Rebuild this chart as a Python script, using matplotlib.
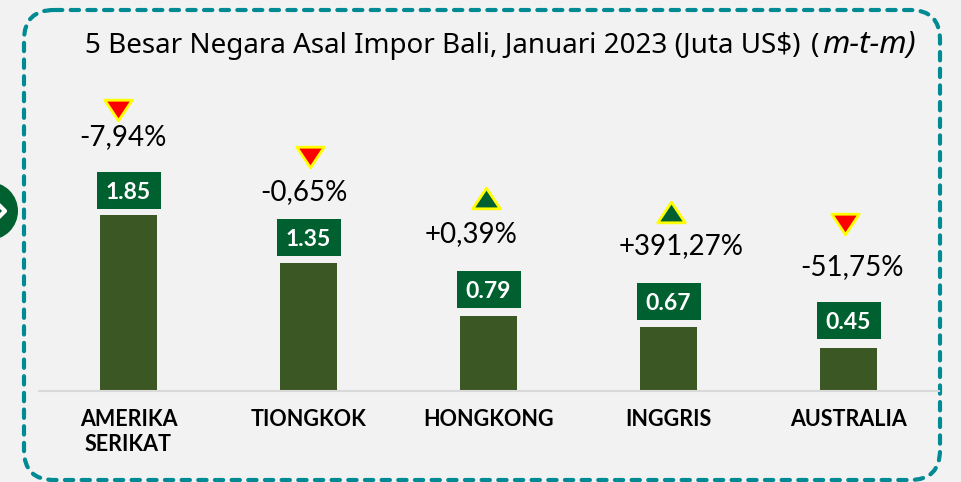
import matplotlib
matplotlib.use("Agg")
import matplotlib.pyplot as plt
from matplotlib.patches import FancyBboxPatch, Circle, Rectangle
from matplotlib.path import Path

categories = ["AMERIKA\nSERIKAT", "TIONGKOK", "HONGKONG", "INGGRIS", "AUSTRALIA"]
values = [1.85, 1.35, 0.79, 0.67, 0.45]
changes = ["-7,94%", "-0,65%", "+0,39%", "+391,27%", "-51,75%"]
directions = [-1, -1, 1, 1, -1]

BG = "#F2F2F2"
BAR = "#3B5723"
GREEN = "#00602F"
TEAL = "#008A93"
W, H = 961, 482
PX_PER_UNIT = 94.6
BASE_Y = 390.5
SPACING = 180

plt.rcParams["font.family"] = ["Lato", "DejaVu Sans"]
fig = plt.figure(figsize=(W / 100, H / 100), dpi=100, facecolor=BG)

# overlay in pixel coordinates for the decoration
ov = fig.add_axes([0, 0, 1, 1], zorder=0)
ov.set_xlim(0, W)
ov.set_ylim(H, 0)
ov.axis("off")
ov.add_patch(FancyBboxPatch((24, 10), 916, 470, boxstyle="round,pad=0,rounding_size=30",
                            fc="none", ec=TEAL, lw=3, linestyle=(0, (2.0, 2.0)),
                            capstyle="round", clip_on=False))
ov.add_patch(Circle((-11, 211), 29, fc=GREEN, ec="none"))
ov.plot([-1, 5, -1], [205, 211, 217], color="white", lw=3, solid_capstyle="round")

# bars
ax = fig.add_axes([38.5 / W, (H - BASE_Y) / H, 900 / W, BASE_Y / H], zorder=1)
ax.patch.set_alpha(0)
xs = list(range(len(values)))
ax.bar(xs, values, width=57 / SPACING, color=BAR)
ax.set_xlim(-0.5, 4.5)
ax.set_ylim(0, BASE_Y / PX_PER_UNIT)
ax.set_yticks([])
ax.set_xticks(xs)
ax.set_xticklabels(categories, fontsize=15.5, fontweight="bold", color="#000000", linespacing=1.22)
ax.tick_params(axis="x", length=0, pad=13.5)
for s in ("left", "right", "top"):
    ax.spines[s].set_visible(False)
ax.spines["bottom"].set_color("#D9D9D9")
ax.spines["bottom"].set_linewidth(1.5)

box_gap = [6, 7, 8, 7, 9]
for x, v, g in zip(xs, values, box_gap):
    ax.add_patch(Rectangle((x - 32 / SPACING, v + g / PX_PER_UNIT), 64 / SPACING, 37 / PX_PER_UNIT,
                           fc=GREEN, ec="none"))
    ax.annotate(f"{v:.2f}", (x, v), xytext=(0, (g + 18.5) * 0.72), textcoords="offset points",
                ha="center", va="center_baseline", fontsize=16.5, fontweight="bold", color="white")

# change labels and triangles, offset from each bar
down_tri = Path([(-1, 0.75), (1, 0.75), (0, -0.75), (-1, 0.75)], closed=True)
up_tri = Path([(-1, -0.75), (1, -0.75), (0, 0.75), (-1, -0.75)], closed=True)
label_dx = [-6, -5, -17, 13, 4]
label_dy = [78, 71, 82, 81, 81]
tri_dx = [-11, 1, -3, 2, -4]
tri_dy = [105, 106, 118, 115, 124]
for x, v, c, d, ldx, ldy, tdx, tdy in zip(xs, values, changes, directions, label_dx, label_dy, tri_dx, tri_dy):
    ax.annotate(c, (x, v), xytext=(ldx * 0.72, ldy * 0.72), textcoords="offset points",
                ha="center", va="center", fontsize=20, color="#000000")
    px = 39 + (x + 0.5) * SPACING + tdx
    py = BASE_Y - v * PX_PER_UNIT - tdy
    tri = ov.scatter([px], [py], marker=down_tri if d < 0 else up_tri,
                     s=(27.5 * 0.72) ** 2, fc="#FF0000" if d < 0 else GREEN,
                     ec="#FFFF00", lw=2, zorder=5)
    tri.set_snap(False)

# title
ov.text(85, 53, "5 Besar Negara Asal Impor Bali, Januari 2023 (Juta US$)", fontsize=20,
        family=["Noto Sans", "DejaVu Sans"], color="#000000", ha="left", va="baseline")
ov.text(811, 53, "(", fontsize=20,
        family=["Noto Sans", "DejaVu Sans"], color="#000000", ha="left", va="baseline")
ov.text(916, 53, "m-t-m)", fontsize=22.5, style="italic",
        family=["Noto Sans", "DejaVu Sans"], color="#000000", ha="right", va="baseline")

fig.savefig("out.png", dpi=100, facecolor=BG)
